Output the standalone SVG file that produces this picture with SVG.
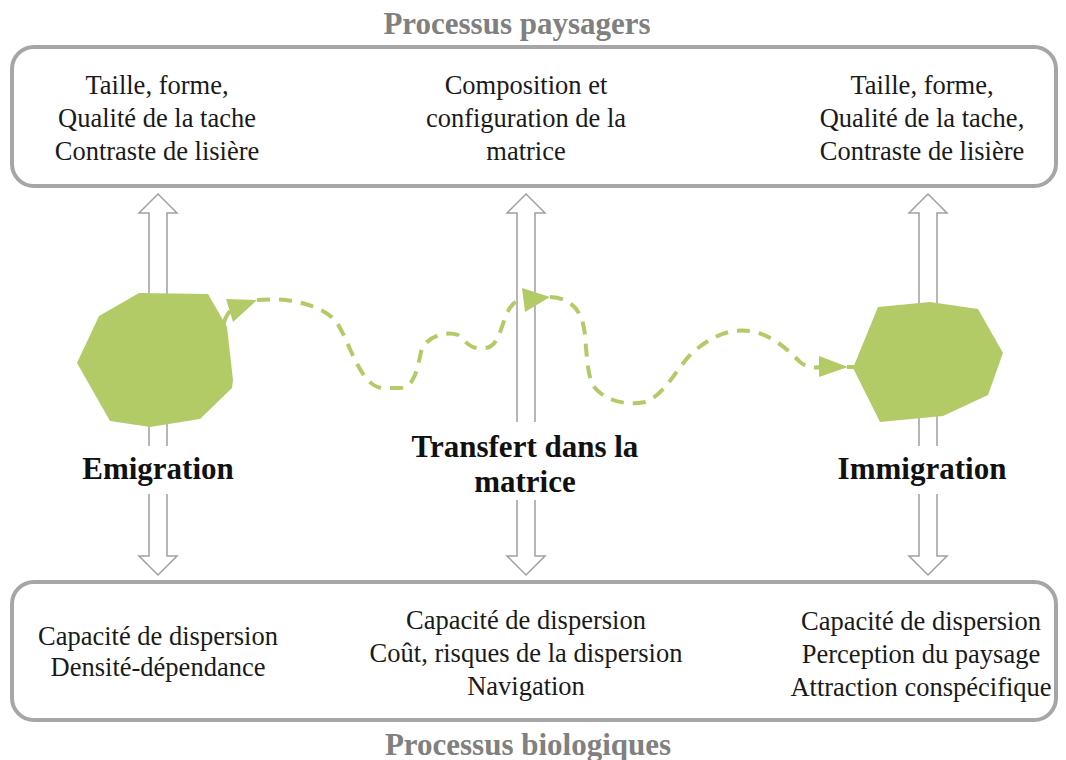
<svg xmlns="http://www.w3.org/2000/svg" width="1066" height="760" viewBox="0 0 1066 760">
  <style>
    .box{fill:#fff;stroke:#a6a6a6;stroke-width:4}
    .title{font-family:"Liberation Serif",serif;font-weight:bold;font-size:31px;fill:#808080;text-anchor:middle}
    .body{font-family:"Liberation Serif",serif;font-size:26.5px;fill:#1a1a1a;text-anchor:middle}
    .label{font-family:"Liberation Serif",serif;font-weight:bold;font-size:31px;fill:#111;text-anchor:middle}
    .harrow{fill:none;stroke:#a0a0a0;stroke-width:1.5;stroke-linejoin:miter}
    .patch{fill:#b3cb67}
    .path{fill:none;stroke:#b3cb67;stroke-width:4;stroke-dasharray:13 9}
    .solid{fill:none;stroke:#b3cb67;stroke-width:4}
    .head{fill:#b3cb67}
  </style>
  <rect width="1066" height="760" fill="#fff"/>

  <g id="title-top"><text class="title" x="517" y="34">Processus paysagers</text></g>
  <g id="title-bottom"><text class="title" x="528" y="755">Processus biologiques</text></g>

  <g id="box-landscape">
    <rect class="box" x="12" y="47" width="1044" height="139" rx="22" ry="22"/>
    <text class="body" x="157" y="94">Taille, forme,</text>
    <text class="body" x="157" y="127">Qualité de la tache</text>
    <text class="body" x="157" y="160">Contraste de lisière</text>
    <text class="body" x="526" y="94">Composition et</text>
    <text class="body" x="526" y="127">configuration de la</text>
    <text class="body" x="526" y="160">matrice</text>
    <text class="body" x="922" y="94">Taille, forme,</text>
    <text class="body" x="922" y="127">Qualité de la tache,</text>
    <text class="body" x="922" y="160">Contraste de lisière</text>
  </g>

  <g id="box-biological">
    <rect class="box" x="12" y="582" width="1044" height="138" rx="22" ry="22"/>
    <text class="body" x="158" y="645">Capacité de dispersion</text>
    <text class="body" x="158" y="676">Densité-dépendance</text>
    <text class="body" x="526" y="629">Capacité de dispersion</text>
    <text class="body" x="526" y="662">Coût, risques de la dispersion</text>
    <text class="body" x="526" y="695">Navigation</text>
    <text class="body" x="921" y="630">Capacité de dispersion</text>
    <text class="body" x="921" y="663">Perception du paysage</text>
    <text class="body" x="921" y="696">Attraction conspécifique</text>
  </g>

  <g id="connectors">
    <path class="harrow" d="M149,446 V213 H139 L158,194 L177,213 H167 V446"/>
    <path class="harrow" d="M149,494 V556 H139 L158,575 L177,556 H167 V494"/>
    <path class="harrow" d="M517,422 V213 H507 L526,194 L545,213 H535 V422"/>
    <path class="harrow" d="M517,500 V556 H507 L526,575 L545,556 H535 V500"/>
    <path class="harrow" d="M919,446 V213 H909 L928,194 L947,213 H937 V446"/>
    <path class="harrow" d="M919,494 V556 H909 L928,575 L947,556 H937 V494"/>
  </g>

  <g id="patch-emigration">
    <polygon class="patch" points="139,293 208,294 227,327 233,380 232,388 200,419 150,427 110,421 77,363 99,316"/>
  </g>
  <g id="patch-immigration">
    <polygon class="patch" points="878,307 930,302 978,309 1003,353 988,395 943,416 880,422 853,368"/>
  </g>

  <g id="dispersal-path">
    <path class="solid" d="M222,331 Q224,318 230,311"/>
    <polygon class="head" points="226,299 257,300 233,322"/>
    <path class="path" d="M257,300 C290,297 320,305 335,320 C350,340 360,390 385,388 L400,388 C415,388 418,365 421,352 C424,338 445,330 458,335 C468,343 470,350 485,348 C497,347 500,332 505,318 C510,305 515,300 523,300"/>
    <polygon class="head" points="522,288 550,297 525,312"/>
    <path class="path" d="M550,297 C575,298 583,315 585,335 C587,360 588,380 595,388 C605,400 625,406 645,402 C665,395 675,370 693,352 C710,338 730,326 755,332 C775,337 790,352 800,362 C808,368 815,368 820,367"/>
    <polygon class="head" points="819,356 848,367 819,377"/>
    <path class="solid" d="M847,367 L854,367"/>
  </g>

  <g id="label-emigration"><text class="label" x="158" y="479">Emigration</text></g>
  <g id="label-transfer">
    <text class="label" x="525" y="457">Transfert dans la</text>
    <text class="label" x="525" y="492">matrice</text>
  </g>
  <g id="label-immigration"><text class="label" x="922" y="479">Immigration</text></g>
</svg>
